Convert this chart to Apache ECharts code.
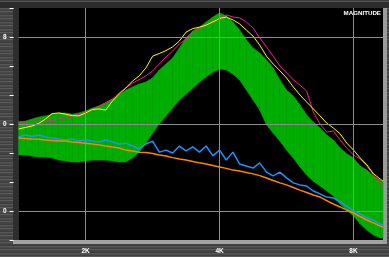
<!DOCTYPE html>
<html><head><meta charset="utf-8">
<script src="https://cdn.jsdelivr.net/npm/echarts@6/dist/echarts.min.js"></script>
<style>
html,body{margin:0;padding:0;width:389px;height:257px;overflow:hidden;}
body{position:relative;background:#474747 repeating-linear-gradient(180deg,#3c3c3c 0px,#3c3c3c 1px,#565656 1px,#565656 2px,#4a4a4a 2px,#4a4a4a 3px,#414141 3px,#414141 4px,#5b5b5b 4px,#5b5b5b 5px,#444 5px,#444 7px);}
.bar{position:absolute;}
#chart{position:absolute;left:0;top:0;width:389px;height:257px;}
</style></head><body>
<div class="bar" style="left:0;top:2px;width:389px;height:6px;background:#2b2b2b"></div>
<div class="bar" style="left:13px;top:8px;width:5px;height:232px;background:#2e2e2e"></div>
<div class="bar" style="left:13px;top:240px;width:374px;height:4px;background:#a3a3a3"></div>
<div class="bar" style="left:383px;top:8px;width:4px;height:236px;background:#9c9c9c"></div>
<div id="chart"></div>
<script>
// Frequency positions in octaves above 1 kHz (2K = 1, 4K = 2, 8K = 3)
const octaves = [0.50,0.55,0.60,0.65,0.70,0.75,0.80,0.85,0.90,0.95,
  1.00,1.05,1.10,1.15,1.20,1.25,1.30,1.35,1.40,1.45,
  1.50,1.55,1.60,1.65,1.70,1.75,1.80,1.85,1.90,1.95,
  2.00,2.05,2.10,2.15,2.20,2.25,2.30,2.35,2.40,2.45,
  2.50,2.55,2.60,2.65,2.70,2.75,2.80,2.85,2.90,2.95,
  3.00,3.05,3.10,3.15,3.20,3.22];

const magenta = [4.07,4.07,4.09,4.10,4.10,4.12,4.17,4.22,4.28,4.33,
  4.40,4.48,4.62,4.74,4.86,5.07,5.24,5.41,5.53,5.66,
  5.83,6.07,6.31,6.52,6.76,6.93,7.14,7.31,7.41,7.53,
  7.66,7.76,7.69,7.66,7.52,7.31,6.97,6.66,6.34,6.00,
  5.76,5.53,5.34,5.14,4.41,4.00,3.72,3.76,3.45,3.17,
  2.93,2.79,2.55,2.24,1.97,1.79];

const yellow = [3.83,3.88,3.93,4.02,4.17,4.36,4.38,4.34,4.29,4.28,
  4.38,4.50,4.52,4.48,4.79,5.03,5.24,5.48,5.66,5.93,
  6.34,6.43,6.53,6.66,6.86,7.17,7.29,7.34,7.41,7.52,
  7.64,7.69,7.59,7.45,7.24,7.03,6.72,6.34,6.07,5.84,
  5.59,5.28,5.00,4.76,4.52,4.28,4.03,3.86,3.66,3.34,
  3.10,2.83,2.59,2.28,2.10,2.03];

const orange = [3.52,3.50,3.48,3.47,3.45,3.43,3.41,3.41,3.38,3.36,
  3.34,3.31,3.28,3.24,3.21,3.17,3.10,3.07,3.03,3.02,
  2.98,2.93,2.90,2.84,2.79,2.76,2.71,2.66,2.62,2.57,
  2.52,2.47,2.41,2.38,2.33,2.28,2.22,2.14,2.05,1.97,
  1.90,1.81,1.72,1.64,1.55,1.48,1.36,1.24,1.14,1.03,
  0.93,0.81,0.69,0.59,0.48,0.45];

const blue = [3.55,3.62,3.57,3.62,3.55,3.52,3.48,3.45,3.48,3.41,
  3.45,3.41,3.38,3.45,3.38,3.31,3.34,3.24,3.14,3.31,
  3.41,3.03,3.10,3.00,3.24,3.07,3.21,3.03,3.24,2.90,
  3.10,2.76,3.03,2.62,2.55,2.48,2.66,2.34,2.21,2.34,
  2.14,1.97,1.90,1.86,1.69,1.59,1.48,1.45,1.31,1.17,
  1.00,0.90,0.76,0.69,0.55,0.52];

const greenTop = [4.07,4.10,4.17,4.24,4.28,4.34,4.38,4.38,4.34,4.38,
  4.45,4.55,4.62,4.72,4.86,5.00,5.17,5.28,5.38,5.45,
  5.59,5.86,6.07,6.28,6.62,6.97,7.21,7.34,7.52,7.69,
  7.83,7.72,7.52,7.24,6.90,6.62,6.45,6.21,5.93,5.52,
  5.17,4.97,4.66,4.31,4.07,3.86,3.62,3.45,3.17,2.97,
  2.83,2.55,2.41,2.21,2.07,2.00];

const greenBottom = [2.93,2.93,2.90,2.86,2.86,2.83,2.76,2.72,2.69,2.69,
  2.72,2.76,2.76,2.76,2.72,2.69,2.69,2.83,3.03,3.34,
  3.69,4.00,4.28,4.55,4.83,5.03,5.24,5.45,5.62,5.79,
  5.90,5.86,5.72,5.52,5.17,4.83,4.48,3.97,3.69,3.41,
  3.10,2.83,2.52,2.24,2.03,1.86,1.69,1.52,1.24,1.03,
  0.83,0.55,0.34,0.17,0.07,0.07];

const xTickOctaves = [1, 2, 3];
const xTickLabels = ['2K', '4K', '8K'];
const yTickLevels = [1, 4, 7];
const yTickLabels = ['0', '0', '8'];

const pairs = arr => octaves.map((o, i) => [o, arr[i]]);
const GREEN = '#00ad00';
const GRID = '#8c8c8c';

const chart = echarts.init(document.getElementById('chart'), null, {renderer: 'canvas'});
chart.setOption({
  animation: false,
  backgroundColor: 'transparent',
  title: {
    text: 'MAGNITUDE', right: 8, top: 10, padding: 0,
    textStyle: {color: '#ffffff', fontSize: 6.2, fontWeight: 'bold', fontFamily: 'Liberation Sans'}
  },
  grid: {left: 18, top: 8, right: 6, bottom: 17, show: true, backgroundColor: '#000000', borderWidth: 0},
  xAxis: {
    type: 'value', min: 0.5, max: 3.22, interval: 0.5,
    axisLine: {show: false}, axisTick: {show: false}, splitLine: {show: false},
    axisLabel: {
      color: '#ffffff', fontSize: 6.5, fontWeight: 'bold', fontFamily: 'Liberation Sans', margin: 8,
      showMinLabel: false, showMaxLabel: false,
      formatter: v => { const k = xTickOctaves.findIndex(t => Math.abs(t - v) < 1e-6); return k >= 0 ? xTickLabels[k] : ''; }
    }
  },
  yAxis: {
    type: 'value', min: 0, max: 8, interval: 1, offset: 5,
    axisLine: {show: false},
    axisTick: {show: true, length: 4, lineStyle: {color: '#ffffff', width: 1}},
    splitLine: {show: false},
    axisLabel: {
      color: '#ffffff', fontSize: 6.5, fontWeight: 'bold', fontFamily: 'Liberation Sans', margin: 7,
      formatter: v => { const k = yTickLevels.findIndex(t => Math.abs(t - v) < 1e-6); return k >= 0 ? yTickLabels[k] : ''; }
    }
  },
  series: [
    {
      name: 'spectrum', type: 'custom', z: 1, silent: true,
      data: octaves.map((o, i) => [o, greenTop[i], greenBottom[i]]),
      encode: {x: 0, y: [1, 2]},
      renderItem: (params, api) => {
        const i = params.dataIndex;
        if (i >= octaves.length - 1) return null;
        const pts = [
          api.coord([octaves[i], greenTop[i]]),
          api.coord([octaves[i + 1], greenTop[i + 1]]),
          api.coord([octaves[i + 1], greenBottom[i + 1]]),
          api.coord([octaves[i], greenBottom[i]])
        ];
        return {type: 'polygon', shape: {points: pts}, style: {fill: GREEN, stroke: GREEN, lineWidth: 0.6}};
      }
    },
    {
      name: 'grid', type: 'line', z: 2, data: pairs(orange), showSymbol: false, silent: true,
      lineStyle: {opacity: 0},
      markLine: {
        silent: true, symbol: ['none', 'none'], label: {show: false}, animation: false,
        lineStyle: {color: GRID, width: 1, type: 'solid'},
        emphasis: {disabled: true},
        data: xTickOctaves.map(v => ({xAxis: v})).concat(yTickLevels.map(v => ({yAxis: v})))
      }
    },
    {name: 'magenta', type: 'line', z: 3, data: pairs(magenta), showSymbol: false, lineStyle: {color: '#ff1a8c', width: 1}},
    {name: 'yellow', type: 'line', z: 4, data: pairs(yellow), showSymbol: false, lineStyle: {color: '#ffff00', width: 1}},
    {name: 'blue', type: 'line', z: 5, data: pairs(blue), showSymbol: false, lineStyle: {color: '#1e90ff', width: 1.5}},
    {name: 'orange', type: 'line', z: 6, data: pairs(orange), showSymbol: false, lineStyle: {color: '#ff8400', width: 1.5}}
  ]
});
</script>
</body></html>
